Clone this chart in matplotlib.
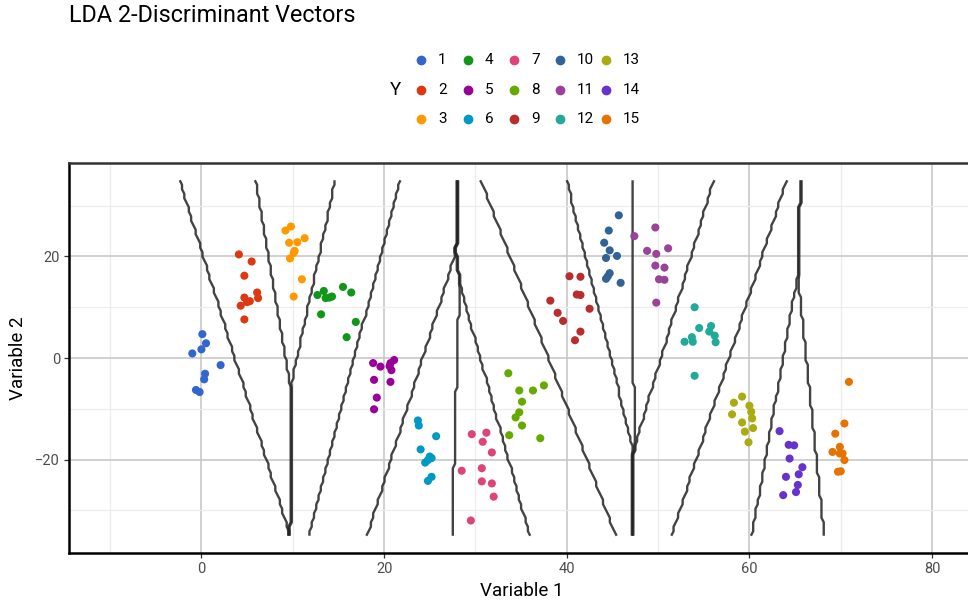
import numpy as np
import matplotlib
matplotlib.use("Agg")
import matplotlib.pyplot as plt
from matplotlib.lines import Line2D

plt.rcParams['font.family'] = ['Roboto', 'DejaVu Sans']

# discriminant scores per class (LD1, LD2)
classes = [str(i) for i in range(1, 16)]
ld1 = [
    [0.1, 0.5, 0.0, -1.0, 2.1, 0.4, 0.3, -0.6, -0.2],
    [4.1, 5.5, 4.7, 6.1, 6.2, 4.7, 4.3, 5.3, 4.7, 5.0],
    [9.2, 9.8, 9.6, 10.5, 11.3, 10.2, 10.1, 9.7, 11.0, 10.1],
    [12.7, 13.4, 13.6, 14.3, 15.5, 16.4, 13.1, 16.9, 15.9, 14.0],
    [18.8, 19.6, 20.7, 21.1, 20.8, 18.9, 20.7, 19.2, 18.9, 20.6],
    [23.7, 23.8, 25.7, 24.0, 25.0, 25.2, 24.5, 24.8, 25.2, 24.8],
    [29.6, 31.2, 30.8, 31.8, 28.5, 30.7, 30.7, 31.8, 32.0, 29.5],
    [33.6, 34.8, 36.3, 37.5, 35.1, 34.8, 34.4, 35.1, 33.7, 37.1],
    [40.3, 41.5, 41.1, 41.5, 38.2, 42.5, 39.0, 39.6, 41.5, 40.9],
    [45.7, 44.6, 44.1, 44.7, 45.5, 44.3, 44.7, 44.5, 44.3, 45.9],
    [47.4, 49.7, 48.8, 49.8, 51.1, 49.7, 50.7, 50.1, 50.7, 49.8],
    [54.0, 54.5, 55.8, 55.6, 56.2, 53.7, 53.8, 52.9, 56.3, 54.0],
    [59.2, 58.3, 60.0, 60.2, 58.1, 60.3, 59.2, 59.5, 60.4, 59.9],
    [63.3, 64.3, 64.9, 64.4, 65.8, 64.0, 65.4, 65.3, 63.7, 65.1],
    [70.9, 70.4, 69.4, 69.9, 69.1, 69.9, 70.2, 70.4, 69.7, 70.0],
]
ld2 = [
    [4.7, 2.9, 1.7, 0.9, -1.4, -3.1, -4.2, -6.3, -6.7],
    [20.4, 19.0, 16.2, 12.9, 11.8, 11.9, 10.3, 11.2, 7.6, 11.0],
    [25.1, 25.9, 22.7, 22.8, 23.6, 21.1, 20.7, 19.6, 15.5, 12.1],
    [12.4, 13.2, 11.8, 12.1, 14.0, 12.9, 8.6, 7.1, 4.1, 11.9],
    [-1.0, -1.7, -1.0, -0.4, -2.4, -4.3, -4.7, -7.8, -10.1, -1.6],
    [-12.3, -13.3, -15.4, -18.0, -19.4, -19.7, -20.6, -20.1, -23.4, -24.2],
    [-15.0, -14.7, -16.5, -18.6, -22.2, -21.7, -24.3, -24.7, -27.3, -32.0],
    [-3.0, -6.4, -6.4, -5.4, -8.6, -10.7, -11.7, -13.3, -15.2, -15.8],
    [16.1, 16.0, 12.5, 12.4, 11.3, 9.7, 8.9, 7.3, 5.2, 3.5],
    [28.1, 25.1, 22.7, 21.2, 20.1, 19.7, 16.7, 16.1, 15.6, 14.8],
    [24.0, 25.7, 21.1, 20.5, 21.6, 18.2, 17.8, 15.5, 15.4, 10.9],
    [10.0, 5.9, 6.3, 5.2, 4.4, 4.1, 3.2, 3.2, 3.1, -3.5],
    [-7.6, -8.8, -9.4, -10.6, -11.1, -11.9, -12.7, -14.5, -13.8, -16.6],
    [-14.4, -17.1, -17.2, -19.8, -21.5, -23.4, -22.9, -25.0, -27.0, -26.4],
    [-4.7, -12.9, -14.9, -17.5, -18.5, -18.8, -18.8, -20.1, -22.4, -22.3],
]
palette = ['#3366cc', '#dc3912', '#ff9900', '#109618', '#990099',
           '#0099c6', '#dd4477', '#66aa00', '#b82e2e', '#316395',
           '#994499', '#22aa99', '#aaaa11', '#6633cc', '#e67300']

# prediction grid limits and resolution
grid_x = (-2.5, 72.0)
grid_y = (-35.0, 35.0)
nx, ny = 300, 80

# --- LDA fit on the scores (pooled covariance, equal priors) ---
means = np.array([[np.mean(a), np.mean(b)] for a, b in zip(ld1, ld2)])
resid = np.vstack([np.column_stack([np.array(a) - m[0], np.array(b) - m[1]])
                   for a, b, m in zip(ld1, ld2, means)])
n_tot = sum(len(a) for a in ld1)
pooled = resid.T @ resid / (n_tot - len(classes))
prec = np.linalg.inv(pooled)

gx = np.linspace(grid_x[0], grid_x[1], nx)
gy = np.linspace(grid_y[0], grid_y[1], ny)
XX, YY = np.meshgrid(gx, gy)
pts = np.column_stack([XX.ravel(), YY.ravel()])
scores = pts @ prec @ means.T - 0.5 * np.einsum('ij,jk,ik->i', means, prec, means)
pred = (np.argmax(scores, axis=1) + 1).reshape(XX.shape)

W, H = 968, 603
fig = plt.figure(figsize=(W / 100, H / 100), dpi=100)
ax = fig.add_axes([69 / W, 50 / H, (975 - 69) / W, 390 / H])

ax.contour(XX, YY, pred, levels=np.arange(1.5, 15, 1.0), colors='#222222',
           linewidths=1.7, alpha=0.85, zorder=2)

for a, b, col in zip(ld1, ld2, palette):
    ax.scatter(a, b, s=34, color=col, edgecolors='none', zorder=3)

ax.set_xlim(-14.5, 84.7)
ax.set_ylim(-38.4, 38.4)
ax.set_xticks([0, 20, 40, 60, 80])
ax.set_yticks([-20, 0, 20])
ax.set_xticks([-10, 10, 30, 50, 70], minor=True)
ax.set_yticks([-30, -10, 10, 30], minor=True)
ax.grid(True, which='major', color='#c4c4c4', linewidth=1.1, zorder=0)
ax.grid(True, which='minor', color='#ececec', linewidth=0.9, zorder=0)
ax.set_axisbelow(True)
ax.tick_params(which='major', length=3.5, width=0.9, color='#333333',
               labelcolor='#4d4d4d', labelsize=10.5, pad=3)
ax.tick_params(which='minor', length=0)
for side in ['left', 'bottom']:
    ax.spines[side].set_linewidth(1.8)
    ax.spines[side].set_color('black')
ax.spines['top'].set_linewidth(1.8)
ax.spines['top'].set_color('#333333')
ax.spines['right'].set_visible(False)

ax.set_xlabel('Variable 1', fontsize=13.5, labelpad=4)
ax.set_ylabel('Variable 2', fontsize=13.5, labelpad=6)

fig.text(69 / W, 1 - 16 / H, 'LDA 2-Discriminant Vectors', fontsize=16.8,
         ha='left', va='center')

# legend: 3 rows, filled column by column
fig.text(395 / W, 1 - 90 / H, 'Y', fontsize=13.5, ha='center', va='center')
leg_x = [421, 468, 514, 560, 606]
leg_y = [60, 90, 119]
for i, (lab, col) in enumerate(zip(classes, palette)):
    c, r = divmod(i, 3)
    fx, fy = leg_x[c] / W, 1 - leg_y[r] / H
    fig.add_artist(Line2D([fx], [fy], marker='o', ms=6, color=col,
                          linestyle='none', transform=fig.transFigure))
    fig.text(fx + 17 / W, fy, lab, fontsize=11, ha='left', va='center')

fig.savefig('out.png', dpi=100)
